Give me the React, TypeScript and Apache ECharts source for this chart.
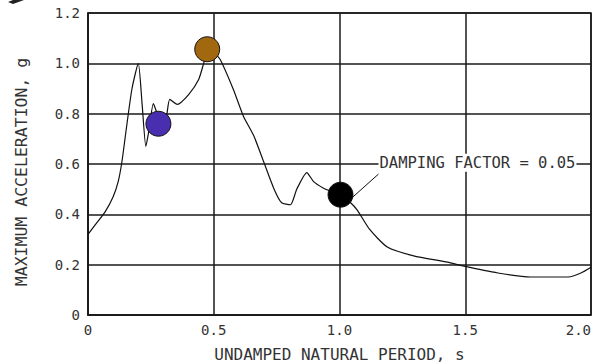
import React, { useEffect, useRef } from "react";
import * as echarts from "echarts";

const periods = [0, 0.03, 0.068, 0.1, 0.12, 0.135, 0.155, 0.175, 0.2, 0.215, 0.23, 0.24, 0.26, 0.275, 0.29, 0.31, 0.325, 0.355, 0.4, 0.44, 0.46, 0.475, 0.5, 0.525, 0.578, 0.618, 0.66, 0.7, 0.74, 0.77, 0.805, 0.83, 0.87, 0.897, 0.935, 0.97, 1.004, 1.04, 1.07, 1.12, 1.19, 1.295, 1.43, 1.49, 1.63, 1.76, 1.91, 1.96, 2.0];
const accel = [0.32, 0.36, 0.41, 0.47, 0.53, 0.61, 0.76, 0.9, 1.0, 0.84, 0.67, 0.72, 0.84, 0.8, 0.77, 0.78, 0.857, 0.837, 0.876, 0.936, 1.0, 1.05, 1.04, 1.016, 0.896, 0.79, 0.71, 0.605, 0.5, 0.446, 0.438, 0.5, 0.566, 0.53, 0.505, 0.49, 0.478, 0.45, 0.418, 0.34, 0.27, 0.235, 0.21, 0.195, 0.167, 0.151, 0.151, 0.167, 0.19];

const markerPeriods = [0.28, 0.474, 1.004];
const markerAccel = [0.76, 1.056, 0.478];
const markerColors = ["#4a2eb0", "#a2680f", "#000000"];

const annotationText = "DAMPING FACTOR = 0.05";
const xTicks = ["0", "0.5", "1.0", "1.5", "2.0"];
const yTicks = ["0", "0.2", "0.4", "0.6", "0.8", "1.0", "1.2"];

const FONT = "'DejaVu Sans Mono', monospace";

export default function App() {
  const ref = useRef<HTMLDivElement>(null);
  useEffect(() => {
    document.body.style.margin = "0";
    const chart = echarts.init(ref.current!, null, { renderer: "svg" });
    const lineData = periods.map((p, i) => [p, accel[i]]);
    const markerData = markerPeriods.map((p, i) => ({
      value: [p, markerAccel[i]],
      itemStyle: { color: markerColors[i] },
    }));
    chart.setOption({
      animation: false,
      backgroundColor: "#ffffff",
      grid: {
        left: 88, right: 7, top: 13, bottom: 48,
        containLabel: false,
        outerBoundsMode: "none",
        show: true, borderColor: "#1a1a1a", borderWidth: 1.5,
      },
      xAxis: {
        type: "value",
        min: 0,
        max: 2,
        interval: 0.5,
        name: "UNDAMPED NATURAL PERIOD, s",
        nameLocation: "middle",
        nameGap: 31,
        nameTextStyle: { fontFamily: FONT, fontSize: 16, color: "#333" },
        axisLine: { show: true, lineStyle: { color: "#1a1a1a", width: 1.5 } },
        axisTick: { show: false },
        axisLabel: {
          fontFamily: FONT,
          fontSize: 14,
          color: "#333",
          margin: 8,
          alignMaxLabel: "right",
          formatter: (v: number) => xTicks[Math.round(v / 0.5)] ?? "",
        },
        splitLine: { show: true, lineStyle: { color: "#1a1a1a", width: 1.5 } },
      },
      yAxis: {
        type: "value",
        min: 0,
        max: 1.2,
        interval: 0.2,
        name: "MAXIMUM ACCELERATION, g",
        nameLocation: "middle",
        nameGap: 58,
        nameRotate: 90,
        nameTextStyle: { fontFamily: FONT, fontSize: 16.5, color: "#333", padding: [0, 16, 0, 0] },
        axisLine: { show: true, lineStyle: { color: "#1a1a1a", width: 1.5 } },
        axisTick: { show: false },
        axisLabel: {
          fontFamily: FONT,
          fontSize: 14,
          color: "#333",
          margin: 8,
          formatter: (v: number) => yTicks[Math.round(v / 0.2)] ?? "",
        },
        splitLine: { show: true, lineStyle: { color: "#1a1a1a", width: 1.5 } },
      },
      graphic: [
        {
          type: "polygon",
          shape: { points: [[8, 2], [13, 0], [24, 0], [13, 4]] },
          style: { fill: "#222" },
        },
      ],
      series: [
        {
          type: "line",
          data: lineData,
          smooth: 0.2,
          symbol: "none",
          lineStyle: { color: "#111", width: 1.2 },
          z: 3,
          markLine: {
            silent: true,
            symbol: "none",
            label: { show: false },
            lineStyle: { color: "#111", width: 1, type: "solid" },
            data: [[{ coord: [1.05, 0.466] }, { coord: [1.155, 0.56] }]],
          },
          markPoint: {
            silent: true,
            symbol: "circle",
            symbolSize: 0,
            data: [
              {
                coord: [1.155, 0.605],
                label: {
                  show: true,
                  position: "right",
                  distance: 0,
                  formatter: annotationText,
                  fontFamily: FONT,
                  fontSize: 15.5,
                  color: "#333",
                  backgroundColor: "#ffffff",
                  padding: [1, 1, 1, 1],
                },
              },
            ],
          },
        },
        {
          type: "scatter",
          data: markerData,
          symbolSize: 25,
          itemStyle: { borderColor: "#111", borderWidth: 1, opacity: 1 },
          z: 4,
        },
      ],
    });
    return () => chart.dispose();
  }, []);
  return <div ref={ref} style={{ width: 598, height: 363 }} />;
}
